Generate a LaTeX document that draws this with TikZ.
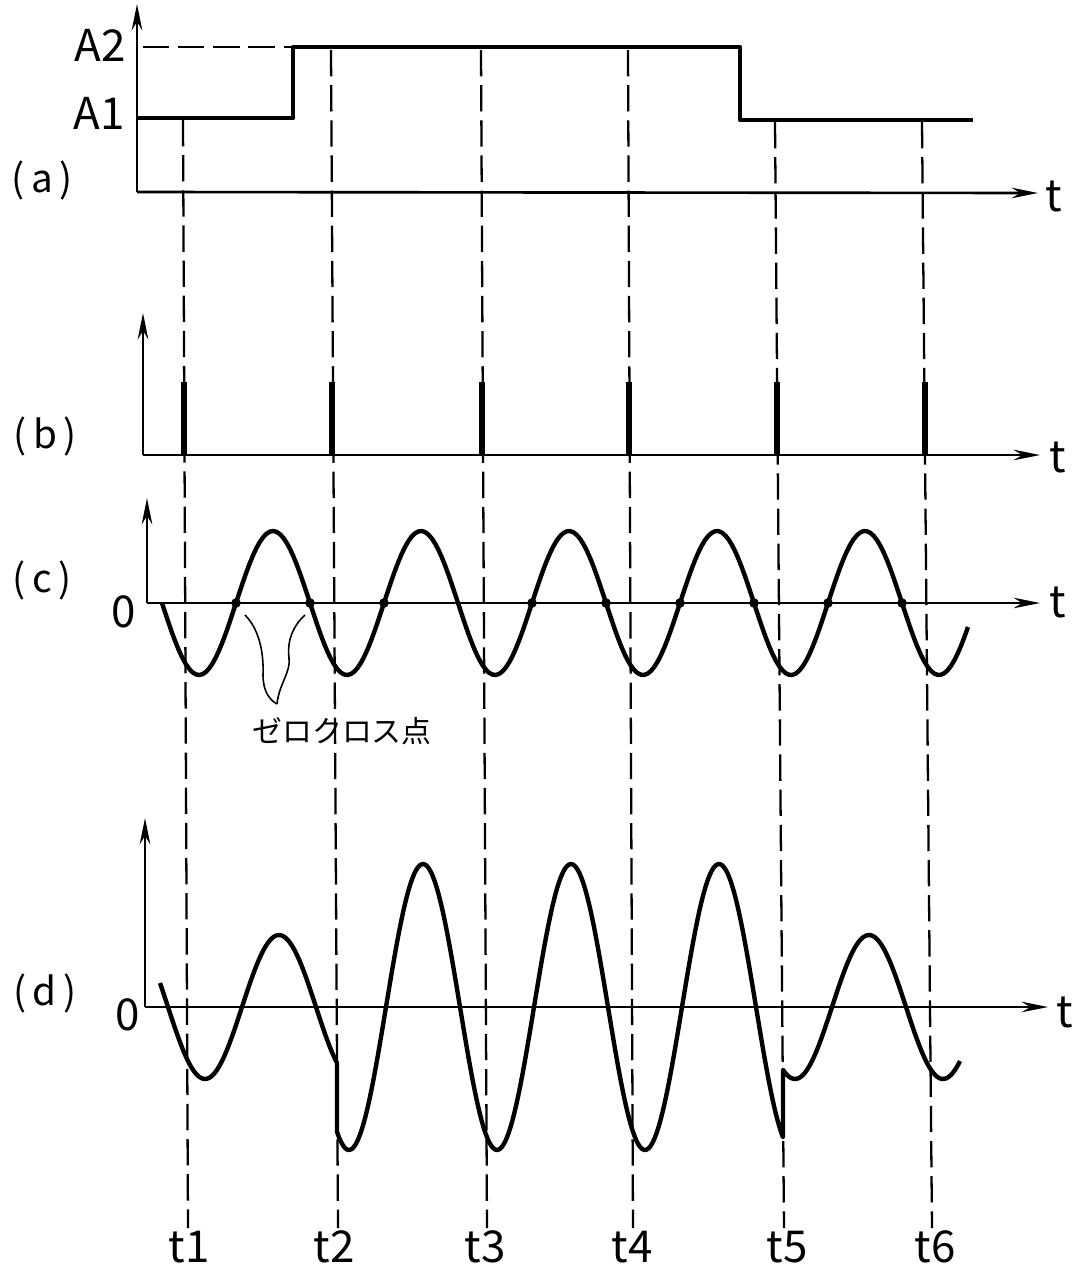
\documentclass[tikz,border=0pt]{standalone}
\usepackage{fontspec}
\setmainfont{Noto Sans CJK JP}
\usetikzlibrary{arrows.meta,calc}
\tikzset{
	axis/.style={
		line width=1.5pt,
		->,
	},
	signal/.style={
		line width=2.5pt,
		line join=round,
	},
	guide/.style={
		line width=1.3pt,
		dash pattern=on 15pt off 5pt,
	},
	pulse/.style={
		line width=3pt,
	},
	cross/.style={
		circle,
		fill=black,
		inner sep=0pt,
		minimum size=5.5pt,
	},
	lead/.style={
		line width=0.9pt,
	},
	lbl/.style={
		font=\fontsize{25}{27}\selectfont,
		inner sep=0pt,
	},
	tag/.style={
		font=\fontsize{22}{24}\selectfont,
		inner sep=0pt,
	},
	jp/.style={
		font=\fontsize{17}{19}\selectfont,
		inner sep=0pt,
	},
}

\begin{document}
\begin{tikzpicture}[x=0.02cm,y=-0.02cm,>={Stealth[length=15pt,width=6pt]}]
	\useasboundingbox (0,0) rectangle (1088,1268);

	% (a)
	\coordinate (oa) at (137,192);
	\coordinate (ya) at (137,4);
	\coordinate (xa) at (1038,193);
	\draw[axis] (oa) -- (ya);
	\draw[axis] (oa) -- (xa);
	\coordinate (lvA2) at (143,47);
	\coordinate (up) at (293,47);
	\draw[guide] (lvA2) -- (up);
	\draw[signal] (137,118) -- (293,118) -- (293,47) -- (740,47) -- (740,120) -- (973,120);
	\node[lbl] (A2) at (100,45) {A2};
	\node[lbl] (A1) at (99,113) {A1};
	\node[tag] (la) at (42,180) {(\,a\,)};
	\node[lbl] (ta) at (1054,196) {t};

	% time marks
	\foreach \i/\gx/\gy/\hx/\lx in {1/183/120/188/189, 2/331/50/338/334, 3/481/50/487/485, 4/628/50/633/632, 5/775/122/784/787, 6/922/122/932/935}{
		\coordinate (g\i) at (\gx,\gy);
		\coordinate (h\i) at (\hx,1228);
		\draw[guide] (g\i) -- (h\i);
		\node[lbl] (lt\i) at (\lx,1247) {t\i};
	}

	% (b)
	\coordinate (ob) at (143,455);
	\coordinate (yb) at (143,313);
	\coordinate (xb) at (1040,455);
	\draw[axis] (ob) -- (yb);
	\draw[axis] (ob) -- (xb);
	\foreach \px in {184,332,482,629,777,925}
		\draw[pulse] (\px,455) -- (\px,382);
	\node[tag] (lb) at (45,436) {(\,b\,)};
	\node[lbl] (tb) at (1058,457) {t};

	% (c)
	\coordinate (oc) at (147,603);
	\coordinate (yc) at (147,498);
	\coordinate (xc) at (1040,603);
	\draw[axis] (oc) -- (yc);
	\draw[axis] (oc) -- (xc);
	\draw[signal] plot[domain=162:968,samples=240] (\x,{603-72*sin((\x-236)/148*360)});
	\foreach \zx [count=\k] in {236,310,384,532,606,680,754,828,902}
		\node[cross] (z\k) at (\zx,603) {};
	\node[tag] (lc) at (42,580) {(\,c\,)};
	\node[lbl] (zc) at (124,612) {0};
	\node[lbl] (tc) at (1058,602) {t};
	\node[jp] (zlab) at (342,731) {ゼロクロス点};
	\coordinate (zmeet) at (277,704);
	\draw[lead] ($(z1)+(9,12)$) .. controls (258,628) and (264,650) .. (263,675) .. controls (263,692) and (270,700) .. (zmeet);
	\draw[lead] ($(z2)+(-5,12)$) .. controls (293,626) and (287,640) .. (289,658) .. controls (291,672) and (279,684) .. (zmeet);

	% (d)
	\coordinate (od) at (145,1007);
	\coordinate (yd) at (145,818);
	\coordinate (xd) at (1048,1007);
	\draw[axis] (od) -- (yd);
	\draw[axis] (od) -- (xd);
	\draw[signal] plot[domain=160:337,samples=80] (\x,{1007-72*sin((\x-242)/148*360)})
		-- plot[domain=337:783,samples=220] (\x,{1007-143*sin((\x-386)/148*360)})
		-- plot[domain=783:960,samples=80] (\x,{1007-72*sin((\x-832)/148*360)});
	\node[tag] (ld) at (45,993) {(\,d\,)};
	\node[lbl] (zd) at (128,1015) {0};
	\node[lbl] (td) at (1065,1012) {t};
\end{tikzpicture}
\end{document}
